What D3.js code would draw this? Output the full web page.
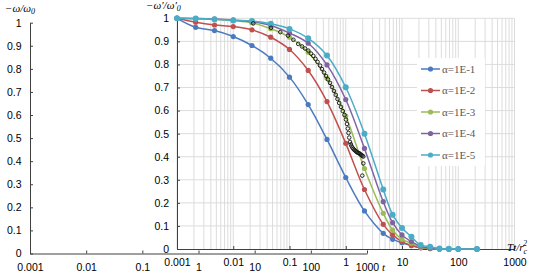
<!DOCTYPE html>
<html>
<head>
	<meta charset="utf-8">
	<title>omega decay</title>
	<style>
		body { margin: 0; background: white; }
		svg { display: block; font-family: 'Liberation Serif', 'Times New Roman', serif; }
		.tick text { font-size: 10.5px; fill: #000; }
	</style>
</head>
<body>
	<svg width='539' height='276'></svg>
</body>
<script src='https://d3js.org/d3.v7.min.js'></script>
<script>

	// time steps (Tt/rc^2) where the model curves have markers
	let tSteps = [0.001, 0.00215, 0.00464, 0.01, 0.0215, 0.0464, 0.1, 0.215, 0.464, 1, 2.15, 4.64, 6.81, 10, 14.7, 21.5, 31.6, 46.4, 68.1, 100, 215]

	let seriesNames = ['α=1E-1', 'α=1E-2', 'α=1E-3', 'α=1E-4', 'α=1E-5']
	let seriesColors = ['#4a7bc0', '#c0504d', '#9bbb59', '#8064a2', '#4bacc6']

	let alpha1 = [1.0, 0.961, 0.947, 0.921, 0.882, 0.827, 0.745, 0.626, 0.475, 0.310, 0.165, 0.068, 0.042, 0.027, 0.015, 0.006, 0.002, 0, 0, 0, 0]
	let alpha2 = [1.0, 0.983, 0.971, 0.964, 0.950, 0.918, 0.865, 0.774, 0.639, 0.458, 0.258, 0.107, 0.061, 0.032, 0.015, 0.005, 0.002, 0, 0, 0, 0]
	let alpha3 = [1.0, 0.998, 0.995, 0.990, 0.981, 0.955, 0.918, 0.853, 0.740, 0.576, 0.349, 0.155, 0.082, 0.042, 0.025, 0.008, 0.003, 0, 0, 0, 0]
	let alpha4 = [1.0, 0.999, 0.997, 0.993, 0.985, 0.969, 0.936, 0.892, 0.798, 0.648, 0.436, 0.205, 0.114, 0.061, 0.032, 0.012, 0.004, 0.001, 0, 0, 0]
	let alpha5 = [1.0, 0.999, 0.996, 0.991, 0.988, 0.976, 0.954, 0.913, 0.839, 0.701, 0.500, 0.258, 0.149, 0.091, 0.053, 0.017, 0.010, 0.002, 0.001, 0, 0]

	// measured points (open black circles)
	let obsT = [0.0227, 0.0469, 0.0686, 0.094, 0.117, 0.143, 0.167, 0.189, 0.216, 0.241, 0.265, 0.290, 0.315, 0.349, 0.378, 0.411, 0.446, 0.484, 0.525, 0.569, 0.618, 0.665, 0.713, 0.765, 0.823, 0.886, 0.950, 1.010, 1.052, 1.087, 1.119, 1.152, 1.190, 1.230, 1.265, 1.320, 1.373, 1.430, 1.490, 1.550, 1.618, 1.690, 1.756, 1.830, 1.905, 1.980, 2.051, 2.051, 1.969]
	let obsV = [0.978, 0.959, 0.940, 0.925, 0.907, 0.889, 0.878, 0.869, 0.860, 0.847, 0.837, 0.824, 0.811, 0.795, 0.780, 0.765, 0.750, 0.735, 0.720, 0.702, 0.685, 0.668, 0.650, 0.633, 0.616, 0.598, 0.581, 0.561, 0.542, 0.522, 0.503, 0.483, 0.464, 0.454, 0.446, 0.439, 0.433, 0.429, 0.425, 0.421, 0.418, 0.416, 0.414, 0.410, 0.407, 0.404, 0.401, 0.371, 0.318]

	let yTicks = [0, 0.1, 0.2, 0.3, 0.4, 0.5, 0.6, 0.7, 0.8, 0.9, 1]
	let xTicks = [0.001, 0.01, 0.1, 1, 10, 100, 1000]

	let allSeries = [alpha1, alpha2, alpha3, alpha4, alpha5]

	let svg = d3.select('svg')

	// ---- back chart (empty, -w/w0 against t) ----
	let xBack = d3.scaleLog().domain([0.001, 1000]).range([30, 367])
	let yBack = d3.scaleLinear().domain([0, 1]).range([253.5, 22.7])

	svg.append('g')
		.attr('transform', 'translate(30,0)')
		.call(d3.axisLeft(yBack).tickValues(yTicks).tickFormat(d3.format('')).tickSize(-3).tickSizeOuter(0).tickPadding(8.5))
	svg.append('g')
		.attr('transform', 'translate(0,253.5)')
		.call(d3.axisBottom(xBack).tickValues(xTicks).tickFormat(d => String(d)).tickSize(-3).tickSizeOuter(0).tickPadding(10.5))

	svg.append('text')
		.attr('x', 5).attr('y', 12)
		.style('font-size', '11px').style('font-style', 'italic')
		.html('−ω/ω<tspan dy="2" font-size="8">0</tspan>')

	svg.append('text')
		.attr('x', 382).attr('y', 271)
		.style('font-size', '11px').style('font-style', 'italic')
		.text('t')

	// ---- front chart (-w'/w'0 against Tt/rc^2) ----
	let x = d3.scaleLog().domain([0.001, 1000]).range([177, 514.5])
	let y = d3.scaleLinear().domain([0, 1]).range([249, 18.3])

	svg.append('rect')
		.attr('x', x.range()[0]).attr('y', y(1))
		.attr('width', x.range()[1] - x.range()[0])
		.attr('height', y(0) - y(1))
		.style('fill', 'white')

	let minorX = []
	for (let p = -3; p <= 2; p++) {
		for (let m = 1; m <= 9; m++) minorX.push(m * Math.pow(10, p))
	}
	minorX.push(1000)

	svg.append('g')
		.selectAll('line')
		.data(minorX)
		.join('line')
		.attr('x1', d => x(d)).attr('x2', d => x(d))
		.attr('y1', y(0)).attr('y2', y(1))
		.style('stroke', '#dcdcdc').style('stroke-width', 1)

	svg.append('g')
		.selectAll('line')
		.data(yTicks.slice(1))
		.join('line')
		.attr('x1', x(0.001)).attr('x2', x(1000))
		.attr('y1', d => y(d)).attr('y2', d => y(d))
		.style('stroke', '#dcdcdc').style('stroke-width', 1)

	svg.append('g')
		.attr('transform', 'translate(177,0)')
		.call(d3.axisLeft(y).tickValues(yTicks).tickFormat(d3.format('')).tickSize(-3).tickSizeOuter(0).tickPadding(8))
	svg.append('g')
		.attr('transform', 'translate(0,249)')
		.call(d3.axisBottom(x).tickValues(xTicks).tickFormat(d => String(d)).tickSize(-3).tickSizeOuter(0).tickPadding(9.5))

	svg.selectAll('.domain, .tick line').style('stroke', '#404040')

	svg.append('text')
		.attr('x', 146).attr('y', 9)
		.style('font-size', '11px').style('font-style', 'italic')
		.html('−ω′/ω′<tspan dy="1.5" font-size="8">0</tspan>')

	let xt = svg.append('text')
		.attr('x', 507).attr('y', 251)
		.style('font-size', '11px').style('font-style', 'italic')
	xt.append('tspan').text('Tt/r')
	xt.append('tspan').attr('dy', 3).style('font-size', '8px').text('c')
	xt.append('tspan').attr('dx', -4).attr('dy', -8).style('font-size', '8px').text('2')

	// curves
	let line = d3.line()
		.x(d => x(d[0]))
		.y(d => y(d[1]))
		.curve(d3.curveCatmullRom.alpha(0.5))

	allSeries.forEach((vals, i) => {
		let pts = tSteps.map((t, j) => [t, vals[j]])
		let g = svg.append('g')
		g.append('path')
			.attr('d', line(pts))
			.style('fill', 'none')
			.style('stroke', seriesColors[i])
			.style('stroke-width', 1.5)
		g.selectAll('circle')
			.data(pts)
			.join('circle')
			.attr('cx', d => x(d[0]))
			.attr('cy', d => y(d[1]))
			.attr('r', i == 4 ? 3 : 2.6)
			.style('fill', seriesColors[i])
	})

	// measured points
	svg.append('g')
		.selectAll('circle')
		.data(obsT.map((t, j) => [t, obsV[j]]))
		.join('circle')
		.attr('cx', d => x(d[0]))
		.attr('cy', d => y(d[1]))
		.attr('r', 1.8)
		.style('fill', 'none')
		.style('stroke', '#111')
		.style('stroke-width', 0.9)

	// legend
	let legend = svg.append('g')
	legend.append('rect')
		.attr('x', 417).attr('y', 58).attr('width', 68).attr('height', 108)
		.style('fill', 'white')

	let legendItem = legend.selectAll('.item')
		.data(seriesNames)
		.join('g')
		.attr('class', 'item')
		.attr('transform', (d, i) => `translate(421,${69 + i * 21.5})`)

	legendItem.append('line')
		.attr('x1', 0).attr('x2', 19)
		.style('stroke', (d, i) => seriesColors[i])
		.style('stroke-width', 1.5)
	legendItem.append('circle')
		.attr('cx', 9.5).attr('r', 2.6)
		.style('fill', (d, i) => seriesColors[i])
	legendItem.append('text')
		.attr('x', 21).attr('dy', '0.35em')
		.style('font-size', '11px')
		.style('fill', '#595959')
		.text(d => d)

</script>
</html>
